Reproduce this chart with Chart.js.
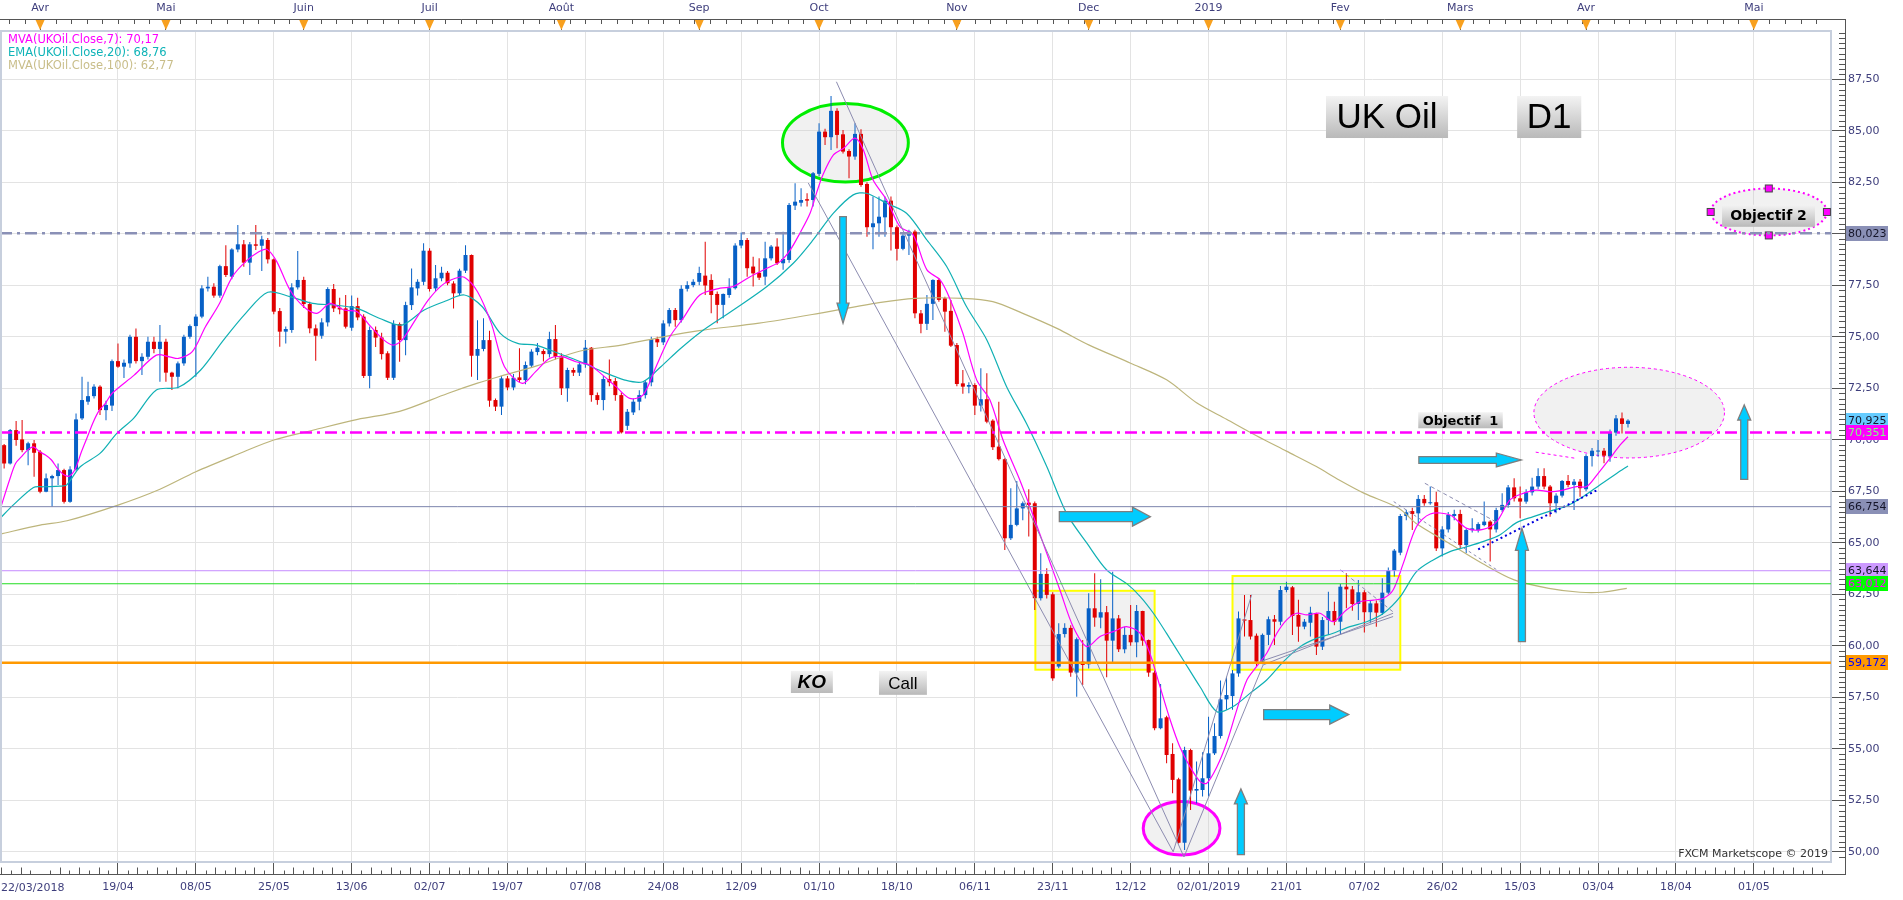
<!DOCTYPE html>
<html lang="fr">
<head>
<meta charset="UTF-8">
<title>UK Oil D1 - FXCM Marketscope</title>
<script src="https://cdn.jsdelivr.net/npm/chart.js"></script>
<style>
  html, body { margin: 0; padding: 0; background: #ffffff; }
  canvas { display: block; }
</style>
</head>
<body>
<canvas id="ukoil" width="1903" height="900"></canvas>
<script>
// one bar per trading day, bar 0 = 22/03/2018
const opens = [
  69.30,69.74,68.85,70.47,70.02,69.50,69.83,69.42,67.48,68.13,
  68.24,68.53,66.99,68.56,71.04,71.85,72.12,72.58,71.44,71.66,
  73.82,73.55,73.71,75.00,73.82,74.03,74.76,74.41,74.76,73.26,
  73.06,73.71,75.00,75.52,75.98,77.35,77.43,77.00,78.43,77.92,
  79.24,79.49,78.60,79.49,79.42,79.70,78.76,76.25,75.25,75.33,
  77.40,77.76,76.59,75.41,75.05,75.70,77.32,76.41,76.38,75.44,
  76.49,75.98,73.10,75.33,74.97,74.20,73.01,75.62,74.84,76.54,
  77.35,77.67,79.18,77.35,77.84,78.11,77.59,77.11,78.21,78.97,
  74.08,74.41,74.84,71.93,71.61,72.98,72.54,73.03,72.90,73.60,
  74.26,74.31,74.16,74.89,74.08,72.50,73.39,73.26,73.66,74.47,
  72.17,71.93,72.95,72.85,72.17,70.68,71.33,71.85,72.17,72.79,
  74.89,74.73,75.65,76.30,75.81,77.33,77.51,77.67,77.97,77.76,
  77.08,76.55,77.03,77.36,79.43,79.70,78.41,78.11,77.92,78.81,
  79.38,78.57,78.73,81.37,81.51,81.68,81.64,82.91,84.96,84.69,
  85.97,84.83,84.02,83.75,84.85,82.42,80.32,80.51,80.80,81.61,
  80.32,79.27,79.91,80.11,76.14,75.63,76.60,77.76,76.87,76.26,
  74.60,72.74,72.58,72.66,71.66,71.97,70.93,69.67,69.06,65.22,
  65.87,66.67,66.95,66.92,62.31,63.49,62.50,58.99,60.57,60.87,
  58.70,59.23,59.10,61.82,61.37,61.63,60.25,61.33,59.83,60.53,
  60.17,61.69,60.28,58.70,56.00,56.53,54.75,53.52,50.44,54.94,
  52.97,53.00,53.57,54.78,55.62,57.40,57.56,58.66,61.28,61.25,
  60.49,59.23,60.53,61.29,61.17,62.71,62.84,61.50,60.93,61.12,
  61.55,59.96,61.25,61.69,61.17,62.87,62.74,62.03,62.60,61.63,
  62.06,61.60,62.58,63.65,64.52,66.30,66.54,66.43,67.13,66.92,
  66.97,64.73,65.65,66.30,66.40,64.89,65.62,65.62,65.86,66.03,
  65.65,66.59,66.84,67.69,67.16,67.00,67.45,67.73,68.24,67.73,
  66.92,67.29,68.00,67.81,67.97,67.60,69.21,69.43,69.47,69.21,
  70.35,71.04,70.77
];
const highs = [
  69.90,69.80,70.52,70.91,70.96,69.90,69.99,69.50,68.37,68.30,
  68.85,68.60,68.72,71.28,73.06,72.82,72.70,72.65,71.90,73.90,
  74.68,73.90,75.10,75.40,74.20,75.00,75.00,75.57,74.90,73.30,
  73.80,75.10,75.60,76.10,77.50,77.92,77.60,78.50,79.45,79.30,
  80.43,79.70,79.60,80.43,79.90,79.80,78.80,76.40,75.50,77.60,
  79.16,77.92,76.70,75.60,75.90,77.40,77.56,76.90,77.03,77.00,
  76.90,76.10,75.50,75.50,75.20,74.30,75.80,75.70,76.70,78.32,
  77.80,79.54,79.30,78.48,78.40,78.20,77.70,78.30,79.45,79.00,
  75.80,75.90,75.30,72.00,73.10,73.10,73.20,74.44,73.80,74.40,
  74.70,74.40,75.25,75.57,74.20,73.50,73.50,73.80,74.84,74.50,
  72.30,73.10,73.90,73.00,72.30,71.50,72.00,72.40,72.90,75.00,
  75.00,75.80,76.40,76.40,77.50,77.70,77.80,78.40,79.62,78.04,
  77.20,77.10,77.84,79.54,80.06,79.80,78.89,78.81,79.62,79.46,
  79.78,80.10,81.50,82.45,82.21,81.97,83.00,85.37,85.10,86.69,
  86.10,85.04,84.10,85.37,85.08,82.50,81.81,81.81,81.81,81.81,
  80.40,80.00,80.20,80.20,76.30,77.03,77.80,77.84,76.95,76.79,
  74.70,73.39,72.80,72.75,73.47,73.23,71.00,71.85,69.10,67.65,
  68.00,67.00,67.60,67.00,64.49,63.76,62.60,61.09,61.09,61.00,
  60.40,60.28,62.55,63.52,63.23,61.93,63.60,61.50,60.93,61.98,
  61.98,61.70,60.30,58.80,58.15,56.60,55.27,53.60,55.10,55.00,
  54.38,54.83,56.56,56.24,58.31,58.50,58.83,61.66,62.47,62.47,
  60.60,60.60,61.42,61.50,62.90,63.11,62.90,62.23,61.30,61.90,
  61.60,61.40,62.63,62.14,63.00,63.52,62.90,63.20,62.70,62.20,
  62.20,63.28,63.80,64.70,66.40,66.60,66.70,67.32,67.32,67.73,
  67.48,65.80,66.50,66.60,66.60,65.70,66.19,66.00,67.00,66.10,
  66.70,67.40,67.80,68.13,67.73,67.60,68.16,68.62,68.62,67.80,
  67.40,68.05,68.29,68.10,68.10,69.30,69.60,69.99,69.60,70.50,
  71.20,71.32,71.00
];
const lows = [
  69.10,68.61,68.80,69.71,69.40,68.77,68.21,67.40,67.45,66.75,
  67.80,66.91,66.95,68.50,70.96,71.70,72.00,71.20,70.95,71.40,
  73.50,73.00,73.50,73.70,73.14,73.90,74.20,72.82,72.82,72.42,
  72.50,73.60,74.90,73.06,75.90,77.20,76.90,76.90,77.90,77.80,
  79.10,78.40,78.00,79.21,78.20,78.56,76.10,74.52,74.68,75.20,
  77.30,76.40,75.17,73.84,74.90,75.50,76.20,76.10,75.40,75.30,
  75.80,73.00,72.50,74.50,73.90,72.90,72.90,73.79,74.10,76.30,
  77.00,77.50,77.20,77.20,77.70,77.50,76.38,77.00,78.10,73.06,
  72.90,74.30,71.60,71.40,71.20,72.40,72.40,72.80,72.70,73.50,
  74.10,73.80,74.00,73.90,72.17,71.85,73.10,73.10,73.50,71.85,
  71.70,71.44,72.60,71.90,70.31,70.47,71.20,71.44,72.00,72.60,
  74.50,74.60,75.50,75.49,75.70,77.20,77.40,77.50,77.03,76.14,
  75.66,75.90,76.90,77.30,79.30,77.92,77.44,77.76,77.52,78.70,
  78.49,78.25,78.60,81.16,81.32,81.32,81.32,82.80,84.31,84.07,
  84.15,83.90,82.70,83.60,82.29,79.86,79.25,79.86,79.86,79.19,
  78.70,79.20,78.97,75.90,75.17,75.33,75.82,76.70,75.25,74.50,
  72.60,72.23,72.26,71.21,71.37,70.80,69.50,69.00,64.65,65.14,
  65.80,66.10,65.30,61.74,62.20,62.30,58.30,58.91,60.40,58.50,
  57.53,58.10,58.90,60.93,60.85,58.47,59.18,59.70,59.64,60.00,
  59.44,60.00,58.50,55.90,55.95,54.30,52.84,50.40,50.09,52.03,
  52.35,52.68,52.68,54.70,55.50,56.90,56.90,58.50,60.45,60.30,
  59.00,59.10,60.04,60.04,61.00,62.60,60.53,60.20,60.80,60.45,
  59.55,59.80,60.53,61.00,60.53,61.82,61.70,61.25,60.64,61.09,
  60.93,61.50,62.50,63.36,64.40,66.10,65.62,65.95,66.80,66.85,
  64.60,64.33,65.50,66.10,64.70,64.50,65.50,65.50,65.80,64.09,
  65.50,66.50,66.70,67.00,66.19,66.90,67.30,67.60,67.60,66.27,
  66.43,67.20,67.70,66.59,67.24,67.50,68.70,69.18,68.86,68.94,
  70.20,70.31,70.60
];
const closes = [
  69.74,68.85,70.47,69.99,69.50,69.83,69.37,67.48,68.13,68.24,
  68.53,66.99,68.56,70.99,71.93,72.12,72.58,71.44,71.69,73.82,
  73.55,73.74,75.00,73.82,74.03,74.76,74.41,74.76,73.26,73.06,
  73.71,75.00,75.52,75.98,77.35,77.43,77.00,78.43,78.00,79.24,
  79.49,78.60,79.49,79.42,79.73,78.76,76.22,75.25,75.38,77.40,
  77.76,76.59,75.41,75.05,75.70,77.32,76.38,76.33,75.49,76.49,
  75.94,73.10,75.33,74.96,74.16,73.01,75.62,74.84,76.54,77.40,
  77.67,79.18,77.32,77.84,78.11,77.60,77.11,78.21,78.97,74.08,
  74.41,74.84,71.90,71.61,72.98,72.54,73.01,72.90,73.63,74.28,
  74.47,74.16,74.89,74.03,72.50,73.39,73.26,73.66,74.47,72.17,
  71.93,72.95,72.79,72.17,70.36,71.36,71.85,72.17,72.79,74.89,
  74.73,75.65,76.30,75.81,77.33,77.51,77.67,78.10,77.49,77.03,
  76.55,77.08,77.36,79.43,79.70,78.33,78.08,77.87,78.81,79.38,
  78.57,78.78,81.40,81.56,81.64,81.61,82.94,84.96,84.69,85.97,
  84.80,83.99,83.75,84.85,82.37,80.32,80.51,80.83,81.61,80.32,
  79.27,79.91,80.11,76.14,75.63,76.60,77.76,76.79,76.22,74.57,
  72.71,72.58,72.66,71.66,71.97,70.88,69.64,69.06,65.22,65.87,
  66.67,66.92,66.84,62.31,63.49,62.47,58.42,60.57,60.87,58.70,
  60.32,59.07,61.82,61.37,61.63,60.25,61.33,59.83,60.53,60.17,
  61.69,60.25,58.70,56.00,56.48,54.70,53.49,50.44,54.94,52.97,
  53.05,53.57,54.78,55.62,57.40,57.61,58.66,61.33,61.22,60.45,
  59.23,60.53,61.29,61.17,62.71,62.87,61.45,60.93,61.17,61.61,
  59.96,61.25,61.69,61.17,62.87,62.74,62.03,62.60,61.63,62.06,
  61.61,62.58,63.65,64.62,66.30,66.48,66.40,67.13,66.92,66.97,
  64.73,65.65,66.35,66.40,64.89,65.62,65.70,65.91,66.03,65.65,
  66.59,66.84,67.69,67.16,67.00,67.45,67.73,68.24,67.73,66.92,
  67.29,68.00,67.81,67.97,67.65,69.21,69.47,69.47,69.23,70.35,
  71.04,70.77,70.93
];

// date ticks (bar index -> label)
const bottomLabelIdx = [20,33,46,59,72,85,98,111,124,137,150,163,176,189,202,215,228,241,254,267,280,293];
const bottomLabels = ['19/04','08/05','25/05','13/06','02/07','19/07','07/08','24/08','12/09','01/10','18/10',
  '06/11','23/11','12/12','02/01/2019','21/01','07/02','26/02','15/03','03/04','18/04','01/05'];
const firstDateLabel = '22/03/2018';
const monthIdx = [7,28,51,72,94,117,137,160,182,202,224,244,265,293];
const monthLabels = ['Avr','Mai','Juin','Juil','Août','Sep','Oct','Nov','Dec','2019','Fev','Mars','Avr','Mai'];
const priceTicks = [50,52.5,55,57.5,60,62.5,65,67.5,70,72.5,75,77.5,80,82.5,85,87.5];

// indicator lines (bar index, value)
const ma7Idx = [0.3,1.9,2.9,3.9,4.9,5.9,6.9,7.9,8.9,9.9,10.9,11.9,12.9,13.9,14.9,15.9,16.9,17.9,19,22.7,
  26.4,28.6,30.1,32.4,34.6,36.8,39.1,41.3,43.5,44.9,46.5,48.7,51,53.2,55.4,57.7,59.9,62.2,64.4,65.9,
  67.4,69.6,71.8,74.1,76.3,77.8,80,82.3,84.5,87.5,89.7,92,94.2,96.4,98.7,100.9,103.1,105.4,107.6,109.8,
  112.1,114.3,117.1,120.5,122.7,125.5,128.3,130.5,132.2,133.8,135.5,136.6,137.7,139.4,141.1,143,144.4,146,148.3,150.5,
  152.7,155,157.2,158.8,161,163.3,165.5,167.7,170.5,172.8,175,177.2,179.4,181.7,183.9,186.1,188.3,190.6,192.2,193.9,
  195.6,197.2,198.9,200.6,201.7,203.4,205,206.7,208.4,210,211.7,213.4,215,216.7,218.4,220.6,222.8,225,227.3,229.5,
  231.2,232.8,234.5,236.7,239,242.3,245.1,247.8,250.1,252.3,254.5,256.7,259,261.2,263.4,265.1,266.8,269,270.7,272];
const ma7Val = [66.59,68.05,68.85,69.18,69.50,69.66,69.42,69.26,69.02,68.61,68.32,68.24,68.61,69.42,70.15,70.88,71.44,71.77,72.25,73.14,
  74.11,74.03,73.95,74.28,75.49,76.54,77.92,78.65,79.13,79.24,78.65,77.27,76.46,76.14,76.62,76.30,76.22,75.49,74.84,74.60,
  74.84,75.81,76.79,77.51,77.84,77.89,77.19,75.65,73.55,72.74,73.31,73.95,74.03,73.79,73.63,73.14,72.58,72.01,72.17,73.55,
  75.00,75.89,77.03,77.36,77.44,77.92,78.33,78.65,79.22,80.03,81.00,82.00,82.90,83.83,84.15,84.64,84.07,82.62,81.64,80.35,
  79.95,78.25,77.76,76.87,75.17,72.91,71.94,69.99,68.05,66.27,64.49,62.71,60.93,59.96,60.45,60.69,60.93,60.61,59.64,58.02,
  56.40,55.10,54.13,53.41,53.33,54.13,55.27,56.88,58.34,58.99,59.64,60.61,61.25,61.58,61.50,61.58,61.17,61.74,62.14,62.22,
  62.31,62.71,64.00,65.78,66.40,66.35,65.70,65.65,66.03,67.08,67.40,67.56,67.48,67.56,67.73,67.73,68.29,69.10,69.75,70.15];
const ema20Idx = [0.3,2.5,5.9,7.5,10.3,11.4,13.7,17,19.8,22.6,26.4,30.1,33.8,37.6,41.3,45,48.7,52.5,56.2,59.9,
  63.7,67.4,71.1,74.8,77.8,80.8,83.8,86.7,89.7,93.5,97.2,100.9,104.6,107.6,110.6,113.6,117.1,122.7,128.3,132.7,
  136,139.4,142.7,144.9,148.3,151.6,155,158.3,161.6,165,168.3,171.6,175,178.3,181.7,185,188.3,190.6,192.8,195,
  197.8,200.6,203.4,206.1,208.9,211.7,214.5,217.3,220,222.8,225.6,228.4,231.2,234,236.7,239.5,242.3,245.1,247.8,250.6,
  253.4,256.2,259,261.8,264.5,267.3,270.1,272];
const ema20Val = [66.18,66.83,67.69,67.72,67.75,67.80,68.69,69.34,70.31,71.04,72.42,72.55,73.39,74.84,76.14,77.16,76.95,76.62,76.54,76.38,
  75.89,75.57,76.30,76.75,77.03,76.46,75.17,74.68,74.60,74.20,73.79,73.31,72.90,72.82,73.55,74.36,75.20,76.30,77.44,78.57,
  79.70,81.00,81.89,81.97,81.48,81.00,79.70,78.41,76.47,74.85,72.58,70.80,68.70,66.43,64.98,63.68,63.03,62.39,61.58,60.60,
  59.30,58.00,56.80,57.05,57.69,58.34,59.23,59.96,60.36,60.61,60.93,61.17,61.58,62.39,63.60,64.17,64.57,64.81,65.06,65.38,
  65.98,66.27,66.54,66.79,67.24,67.81,68.37,68.73];
const ma100Idx = [0.3,7,11.5,20,27,33,40,46,53,60,67,75,80,84,90,97,104,111,117,127,
  137,147,153,161,166,171,176.7,182,189,195,200,205,210,215,220,223.8,228,233.8,236.6,242,
  247.7,253,258.8,264,267.7,271.8];
const ma100Val = [65.42,65.86,66.07,66.83,67.60,68.45,69.30,69.99,70.50,70.99,71.38,72.25,72.75,73.10,73.60,74.30,74.60,75.00,75.30,75.66,
  76.14,76.66,76.87,76.87,76.71,76.14,75.41,74.61,73.72,72.91,71.80,71.00,70.20,69.45,68.70,68.05,67.40,66.67,65.95,65.00,
  64.00,63.20,62.79,62.60,62.60,62.79];
const legendNames = ['MVA(UKOil.Close,7): 70,17','EMA(UKOil.Close,20): 68,76','MVA(UKOil.Close,100): 62,77'];

// horizontal levels and last price
const levelValues = [80.023, 70.351, 66.754, 63.644, 63.012, 59.172];
const lastPrice = 70.925;

// ---------- layout / styles ----------
const X_MIN = 0.31, X_MAX = 305.88;
const Y_MIN = 49.505, Y_MAX = 89.845;
const UP = '#0760C6', DOWN = '#E00000';
const AXIS_TEXT = '#3E3E7C';
const FRAME = '#C7CFDD';
const GRID = '#E3E3E3';
const SHADE = 'rgba(200,200,200,0.25)';
const FONT = '"DejaVu Sans", Verdana, sans-serif';

const levelStyles = [
  {color:'#8A90B6', width:2.5, dash:[12,5,3,5], box:'#8A90B6', text:'#15152A'},
  {color:'#FF00FF', width:2.5, dash:[12,5,3,5], box:'#FF00FF', text:'#80FF80'},
  {color:'#7C84AC', width:1, dash:[], box:'#8A90B6', text:'#15152A'},
  {color:'#C58BFF', width:1, dash:[], box:'#CC99FF', text:'#15152A'},
  {color:'#22DD22', width:1, dash:[], box:'#00FF00', text:'#FF00FF'},
  {color:'#FF9900', width:2.5, dash:[], box:'#FF9900', text:'#0000FF'}
];

// drawn notes, in chart coordinates (bar index, price)
const ellipseNotes = [
  {cx:141.4, cy:84.42, rx:10.5, ry:1.9, stroke:'#00EE00', width:3, dash:[]},
  {cx:197.5, cy:51.14, rx:6.4, ry:1.3, stroke:'#FF00FF', width:3, dash:[]},
  {cx:272.2, cy:71.32, rx:15.9, ry:2.2, stroke:'#FF00FF', width:1, dash:[3,3]},
  {cx:295.5, cy:81.06, rx:9.7, ry:1.14, stroke:'#FF00FF', width:2, dash:[2,3], handles:true}
];
const boxNotes = [[173.1,62.67,193.0,58.84],[206.0,63.39,234.0,58.84]];
const arrowNotes = [
  [141.0,80.83,141.0,75.66,3.3,6,20],
  [177.1,66.27,192.3,66.27,5,9.5,18],
  [211.2,56.66,225.4,56.66,5,9.5,19],
  [207.4,49.86,207.4,53.05,3.5,6.5,15],
  [237.1,69.02,254.2,69.02,3.4,7,25],
  [254.3,60.2,254.3,65.7,3.5,6.5,22],
  [291.4,68.08,291.4,71.69,3.5,6.5,15]
];
const textNotes = [
  {x0:221.6, x1:241.97, y0:86.69, y1:84.65, text:'UK Oil', font:'35px "Liberation Sans", Arial, sans-serif'},
  {x0:253.5, x1:264.2, y0:86.69, y1:84.65, text:'D1', font:'35px "Liberation Sans", Arial, sans-serif'},
  {x0:132.3, x1:139.3, y0:58.78, y1:57.71, text:'KO', font:'italic bold 19px "Liberation Sans", Arial, sans-serif'},
  {x0:147.0, x1:155.0, y0:58.78, y1:57.62, text:'Call', font:'17px "Liberation Sans", Arial, sans-serif'},
  {x0:237.0, x1:251.1, y0:71.34, y1:70.56, text:'Objectif  1', font:'bold 13px ' + FONT},
  {x0:287.7, x1:303.2, y0:81.41, y1:80.34, text:'Objectif 2', font:'bold 14px ' + FONT}
];
const trendNotes = [
  {pts:[[139.9,87.38],[197.9,49.75]], color:'#8C8CB0', dash:[], width:1},
  {pts:[[135.2,82.47],[196.1,50.0]], color:'#8C8CB0', dash:[], width:1},
  {pts:[[196.1,50.0],[209.2,62.48]], color:'#8C8CB0', dash:[], width:1},
  {pts:[[197.9,49.75],[211.1,59.07],[232.8,61.58]], color:'#8C8CB0', dash:[], width:1},
  {pts:[[210.6,59.23],[232.8,61.42]], color:'#8C8CB0', dash:[], width:1},
  {pts:[[224.0,63.69],[233.0,61.6]], color:'#8C8CB0', dash:[4,3], width:1},
  {pts:[[232.9,67.0],[250.1,63.69]], color:'#8C8CB0', dash:[3,3], width:1},
  {pts:[[238.1,67.89],[250.4,65.95]], color:'#8C8CB0', dash:[4,3], width:1},
  {pts:[[247.0,64.68],[266.8,67.55]], color:'#0000DD', dash:[2,3], width:2},
  {pts:[[256.6,69.4],[263.3,69.1]], color:'#FF00FF', dash:[3,3], width:1}
];

// ---------- datasets ----------
const barIdx = opens.map((_, i) => i);
const candleColors = barIdx.map(i => closes[i] >= opens[i] ? UP : DOWN);

const datasets = [
  {
    type: 'bar', label: 'wick', order: 50, grouped: false, maxBarThickness: 1,
    data: barIdx.map(i => ({x: i, y: [lows[i], highs[i]]})),
    backgroundColor: candleColors
  },
  {
    type: 'bar', label: 'body', order: 49, grouped: false, maxBarThickness: 4, minBarLength: 1,
    data: barIdx.map(i => ({x: i, y: [opens[i], closes[i]]})),
    backgroundColor: candleColors
  },
  {
    type: 'line', label: 'MVA100', order: 30, borderColor: '#BDB57C', borderWidth: 1.2,
    pointRadius: 0, tension: 0.3,
    data: ma100Idx.map((x, i) => ({x, y: ma100Val[i]}))
  },
  {
    type: 'line', label: 'EMA20', order: 29, borderColor: '#10B0B4', borderWidth: 1.2,
    pointRadius: 0, tension: 0.3,
    data: ema20Idx.map((x, i) => ({x, y: ema20Val[i]}))
  },
  {
    type: 'line', label: 'MVA7', order: 28, borderColor: '#FF00FF', borderWidth: 1.2,
    pointRadius: 0, tension: 0.3,
    data: ma7Idx.map((x, i) => ({x, y: ma7Val[i]}))
  }
];
trendNotes.forEach(t => datasets.push({
  type: 'line', order: 20, borderColor: t.color, borderWidth: t.width, borderDash: t.dash,
  pointRadius: 0, tension: 0, data: t.pts.map(p => ({x: p[0], y: p[1]}))
}));
levelValues.forEach((v, i) => datasets.push({
  type: 'line', order: 10, borderColor: levelStyles[i].color, borderWidth: levelStyles[i].width,
  borderDash: levelStyles[i].dash, pointRadius: 0,
  data: [{x: X_MIN, y: v}, {x: X_MAX, y: v}]
}));

// ---------- drawing helpers ----------
function drawArrow(ctx, x1, y1, x2, y2, sw, hw, hl) {
  const len = Math.hypot(x2 - x1, y2 - y1);
  const ux = (x2 - x1) / len, uy = (y2 - y1) / len;
  const nx = -uy, ny = ux;
  const bx = x2 - ux * hl, by = y2 - uy * hl;
  ctx.beginPath();
  ctx.moveTo(x1 + nx * sw, y1 + ny * sw);
  ctx.lineTo(bx + nx * sw, by + ny * sw);
  ctx.lineTo(bx + nx * hw, by + ny * hw);
  ctx.lineTo(x2, y2);
  ctx.lineTo(bx - nx * hw, by - ny * hw);
  ctx.lineTo(bx - nx * sw, by - ny * sw);
  ctx.lineTo(x1 - nx * sw, y1 - ny * sw);
  ctx.closePath();
  ctx.fillStyle = '#00CCFF';
  ctx.fill();
  ctx.strokeStyle = '#7E7E7E';
  ctx.lineWidth = 1.3;
  ctx.stroke();
}

function fmt(v, d) { return v.toFixed(d).replace('.', ','); }

const decor = {
  id: 'decor',
  beforeDraw(chart) {
    const ctx = chart.ctx;
    ctx.save();
    ctx.fillStyle = '#ffffff';
    ctx.fillRect(0, 0, chart.width, chart.height);
    ctx.restore();
  },
  beforeDatasetsDraw(chart) {
    const {ctx, chartArea: a, scales: {x, y}} = chart;
    ctx.save();
    ctx.beginPath();
    ctx.rect(a.left, a.top, a.right - a.left, a.bottom - a.top);
    ctx.clip();
    boxNotes.forEach(b => {
      const x0 = x.getPixelForValue(b[0]), y0 = y.getPixelForValue(b[1]);
      const x1 = x.getPixelForValue(b[2]), y1 = y.getPixelForValue(b[3]);
      ctx.fillStyle = SHADE;
      ctx.fillRect(x0, y0, x1 - x0, y1 - y0);
      ctx.strokeStyle = '#FFFF00';
      ctx.lineWidth = 2;
      ctx.strokeRect(x0, y0, x1 - x0, y1 - y0);
    });
    ellipseNotes.forEach(e => {
      const cx = x.getPixelForValue(e.cx), cy = y.getPixelForValue(e.cy);
      const rx = Math.abs(x.getPixelForValue(e.cx + e.rx) - cx);
      const ry = Math.abs(y.getPixelForValue(e.cy + e.ry) - cy);
      ctx.beginPath();
      ctx.ellipse(cx, cy, rx, ry, 0, 0, Math.PI * 2);
      ctx.fillStyle = SHADE;
      ctx.fill();
      ctx.setLineDash(e.dash);
      ctx.strokeStyle = e.stroke;
      ctx.lineWidth = e.width;
      ctx.stroke();
      ctx.setLineDash([]);
      if (e.handles) {
        [[cx - rx, cy], [cx + rx, cy], [cx, cy - ry], [cx, cy + ry]].forEach(p => {
          ctx.fillStyle = '#FF00FF';
          ctx.fillRect(p[0] - 3.5, p[1] - 3.5, 7, 7);
          ctx.strokeStyle = '#444';
          ctx.lineWidth = 1;
          ctx.strokeRect(p[0] - 3.5, p[1] - 3.5, 7, 7);
        });
      }
    });
    ctx.restore();
  },
  afterDatasetsDraw(chart) {
    const {ctx, chartArea: a, scales: {x, y}} = chart;
    ctx.save();
    ctx.beginPath();
    ctx.rect(a.left, a.top, a.right - a.left, a.bottom - a.top);
    ctx.clip();
    arrowNotes.forEach(n => drawArrow(ctx,
      x.getPixelForValue(n[0]), y.getPixelForValue(n[1]),
      x.getPixelForValue(n[2]), y.getPixelForValue(n[3]), n[4], n[5], n[6]));
    textNotes.forEach(t => {
      const x0 = x.getPixelForValue(t.x0), x1 = x.getPixelForValue(t.x1);
      const y0 = y.getPixelForValue(t.y0), y1 = y.getPixelForValue(t.y1);
      const g = ctx.createLinearGradient(0, y0, 0, y1);
      g.addColorStop(0, '#F3F3F3');
      g.addColorStop(1, '#B9B9B9');
      ctx.fillStyle = g;
      ctx.fillRect(x0, y0, x1 - x0, y1 - y0);
      ctx.fillStyle = '#000';
      ctx.font = t.font;
      ctx.textAlign = 'center';
      ctx.textBaseline = 'middle';
      ctx.fillText(t.text, (x0 + x1) / 2, (y0 + y1) / 2 + 1);
    });
    // legend of indicators
    const legendColors = ['#FF00FF', '#10B4B8', '#C9BE8A'];
    ctx.font = '11.5px ' + FONT;
    ctx.textAlign = 'left';
    ctx.textBaseline = 'middle';
    legendNames.forEach((s, i) => {
      ctx.fillStyle = legendColors[i];
      ctx.fillText(s, 8, 40 + i * 13);
    });
    ctx.fillStyle = '#333';
    ctx.textAlign = 'right';
    ctx.font = '11px ' + FONT;
    ctx.fillText('FXCM Marketscope \u00A9 2019', a.right - 3, a.bottom - 8);
    ctx.restore();
  },
  afterDraw(chart) {
    const {ctx, chartArea: a, scales: {x, y}} = chart;
    ctx.save();
    // left frame
    ctx.strokeStyle = FRAME;
    ctx.lineWidth = 2;
    ctx.beginPath();
    ctx.moveTo(1, a.top);
    ctx.lineTo(1, a.bottom);
    ctx.stroke();

    ctx.strokeStyle = '#555';
    ctx.lineWidth = 1;
    // top axis line and small ticks
    ctx.beginPath();
    ctx.moveTo(0, 19.5);
    ctx.lineTo(1846, 19.5);
    for (let k = -8; k < 120; k++) {
      const v = 20 + k * 2.6;
      if (v < X_MIN || v > X_MAX) continue;
      const px = Math.round(x.getPixelForValue(v)) + 0.5;
      ctx.moveTo(px, 19.5);
      ctx.lineTo(px, 24);
    }
    // bottom axis line and small ticks
    ctx.moveTo(0, 874.5);
    ctx.lineTo(1846, 874.5);
    for (let k = -14; k < 240; k++) {
      if (k % 8 === 0) continue;
      const v = 20 + k * 13 / 8;
      if (v < X_MIN || v > X_MAX) continue;
      const px = Math.round(x.getPixelForValue(v)) + 0.5;
      ctx.moveTo(px, 874.5);
      ctx.lineTo(px, 874.5 - (k % 2 === 0 ? 7 : 4));
    }
    // right axis line and small ticks
    ctx.moveTo(1845.5, 19.5);
    ctx.lineTo(1845.5, 874.5);
    for (let v = 49.75; v < Y_MAX; v += 0.25) {
      if (Math.abs(v / 2.5 - Math.round(v / 2.5)) < 1e-6) continue;
      const py = Math.round(y.getPixelForValue(v)) + 0.5;
      ctx.moveTo(1839, py);
      ctx.lineTo(1845.5, py);
    }
    ctx.stroke();

    // month markers
    ctx.fillStyle = '#F8A01E';
    monthIdx.forEach(v => {
      const px = x.getPixelForValue(v);
      ctx.beginPath();
      ctx.moveTo(px - 4.5, 20);
      ctx.lineTo(px + 4.5, 20);
      ctx.lineTo(px, 30);
      ctx.closePath();
      ctx.fill();
    });

    // first date label, pinned to the left edge
    ctx.font = '11px ' + FONT;
    ctx.fillStyle = AXIS_TEXT;
    ctx.textAlign = 'left';
    ctx.textBaseline = 'middle';
    ctx.fillText(firstDateLabel, 1, 888);

    // price tags on the right axis
    const tag = (v, bg, fg, d) => {
      const py = y.getPixelForValue(v);
      ctx.fillStyle = bg;
      ctx.fillRect(1846, Math.round(py - 7.5), 42, 15);
      ctx.fillStyle = fg;
      ctx.textAlign = 'left';
      ctx.fillText(fmt(v, d), 1848, py + 0.5);
    };
    [0, 2, 3, 4, 5].forEach(i => tag(levelValues[i], levelStyles[i].box, levelStyles[i].text, 3));
    tag(lastPrice, '#66CCFF', '#15152A', 3);
    tag(levelValues[1], levelStyles[1].box, levelStyles[1].text, 3);
    ctx.restore();
  }
};

Chart.defaults.font.family = FONT;

new Chart(document.getElementById('ukoil'), {
  type: 'line',
  data: {datasets},
  options: {
    responsive: false,
    animation: false,
    events: [],
    layout: {padding: 0},
    plugins: {legend: {display: false}, tooltip: {enabled: false}, title: {display: false}},
    scales: {
      x: {
        type: 'linear', position: 'bottom', min: X_MIN, max: X_MAX, offset: false,
        afterBuildTicks: s => { s.ticks = bottomLabelIdx.map(v => ({value: v})); },
        afterFit: s => { s.height = 38; },
        ticks: {
          autoSkip: false, maxRotation: 0, minRotation: 0, padding: 7,
          color: AXIS_TEXT, font: {family: FONT, size: 11},
          callback: (v, i) => bottomLabels[i]
        },
        grid: {offset: false, color: GRID, tickLength: 12, tickColor: '#555'},
        border: {display: true, color: FRAME, width: 2}
      },
      xTop: {
        type: 'linear', position: 'top', min: X_MIN, max: X_MAX, offset: false,
        afterBuildTicks: s => { s.ticks = monthIdx.map(v => ({value: v})); },
        afterFit: s => { s.height = 31; },
        ticks: {
          autoSkip: false, maxRotation: 0, minRotation: 0, padding: 4,
          color: AXIS_TEXT, font: {family: FONT, size: 11},
          callback: (v, i) => monthLabels[i]
        },
        grid: {offset: false, drawOnChartArea: false, tickLength: 12, tickColor: '#555'},
        border: {display: true, color: FRAME, width: 2}
      },
      y: {
        type: 'linear', position: 'right', min: Y_MIN, max: Y_MAX,
        afterBuildTicks: s => { s.ticks = priceTicks.map(v => ({value: v})); },
        afterFit: s => { s.width = 72; },
        ticks: {
          padding: 3, color: AXIS_TEXT, font: {family: FONT, size: 11},
          callback: v => fmt(v, 2)
        },
        grid: {color: GRID, tickLength: 14, tickColor: '#555'},
        border: {display: true, color: FRAME, width: 2}
      }
    }
  },
  plugins: [decor]
});
</script>
</body>
</html>
